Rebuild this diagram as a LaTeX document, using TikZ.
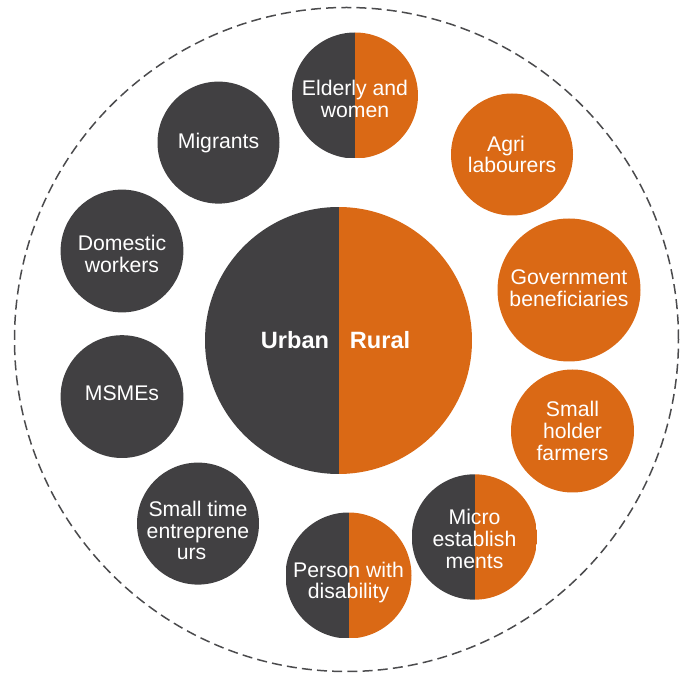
\documentclass[tikz,border=0pt]{standalone}
\usepackage{fontspec}
\setmainfont{Liberation Sans}
\usepackage{tikz}
\usetikzlibrary{positioning}
\definecolor{bubdark}{RGB}{65,64,66}
\definecolor{buborange}{RGB}{218,105,21}
\definecolor{ringgray}{RGB}{75,75,77}

% strut on the first line pushes a label down in its bubble
\newcommand\pushdown[1]{\rule{0pt}{#1}}

\tikzset{
  bubble/.style={circle, inner sep=0pt, text=white, align=center,
    font=\fontsize{10.6}{10.9}\selectfont},
  darkbub/.style={bubble, fill=bubdark},
  orangebub/.style={bubble, fill=buborange},
  splitbub/.style={bubble, path picture={
    \fill[bubdark] (path picture bounding box.south west)
      rectangle (path picture bounding box.north);
    \fill[buborange] (path picture bounding box.south)
      rectangle (path picture bounding box.north east);}},
  textup/.style={execute at end node={\rule[-#1]{0pt}{#1}}},
  biglabel/.style={inner sep=0pt, text=white,
    font=\fontsize{11.8}{12}\selectfont\bfseries}
}

\begin{document}
\begin{tikzpicture}[x=0.5pt, y=-0.5pt]
\useasboundingbox (0,0) rectangle (687,673);

%% Outer dashed ring
\node[circle, draw=ringgray, line width=0.75pt, dash pattern=on 5pt off 2.6pt,
  inner sep=0pt, minimum size=332pt] (ring) at (346.5,339.5) {};

%% Centre: urban / rural
\node[splitbub, minimum size=133.5pt] (main) at (338.5,340.5) {};
\node[biglabel, left=4.5pt of main.center] (urban) {Urban};
\node[biglabel, right=5.5pt of main.center] (rural) {Rural};

%% Both urban and rural
\node[splitbub, minimum size=63pt] (elderly) at (355,95.5)
  {\pushdown{11.2pt}Elderly and\\women};
\node[splitbub, minimum size=62.7pt] (micro) at (474.5,537)
  {\pushdown{9.7pt}Micro\\establish\\ments};
\node[splitbub, minimum size=63pt] (disab) at (348.5,575.5)
  {\pushdown{14.7pt}Person with\\disability};

%% Rural groups
\node[orangebub, minimum size=61pt] (agri) at (512,154.5)
  {Agri\hspace*{6pt}\\labourers};
\node[orangebub, textup=2pt, minimum size=71.5pt] (govt) at (569,290)
  {Government\\beneficiaries};
\node[orangebub, minimum size=61.5pt] (farmers) at (572.5,431)
  {Small\\holder\\farmers};

%% Urban groups
\node[darkbub, inner sep=-4pt, minimum size=61pt] (entre) at (198,523.6)
  {\pushdown{14.7pt}Small time\\entreprene\\urs\hspace*{6.5pt}};
\node[darkbub, textup=3pt, minimum size=61.4pt] (msme) at (122,396.6) {MSMEs};
\node[darkbub, minimum size=61.4pt] (domestic) at (122,251)
  {\pushdown{10.7pt}Domestic\\workers};
\node[darkbub, minimum size=61pt] (migrants) at (218.5,142.6) {Migrants};

\end{tikzpicture}
\end{document}
